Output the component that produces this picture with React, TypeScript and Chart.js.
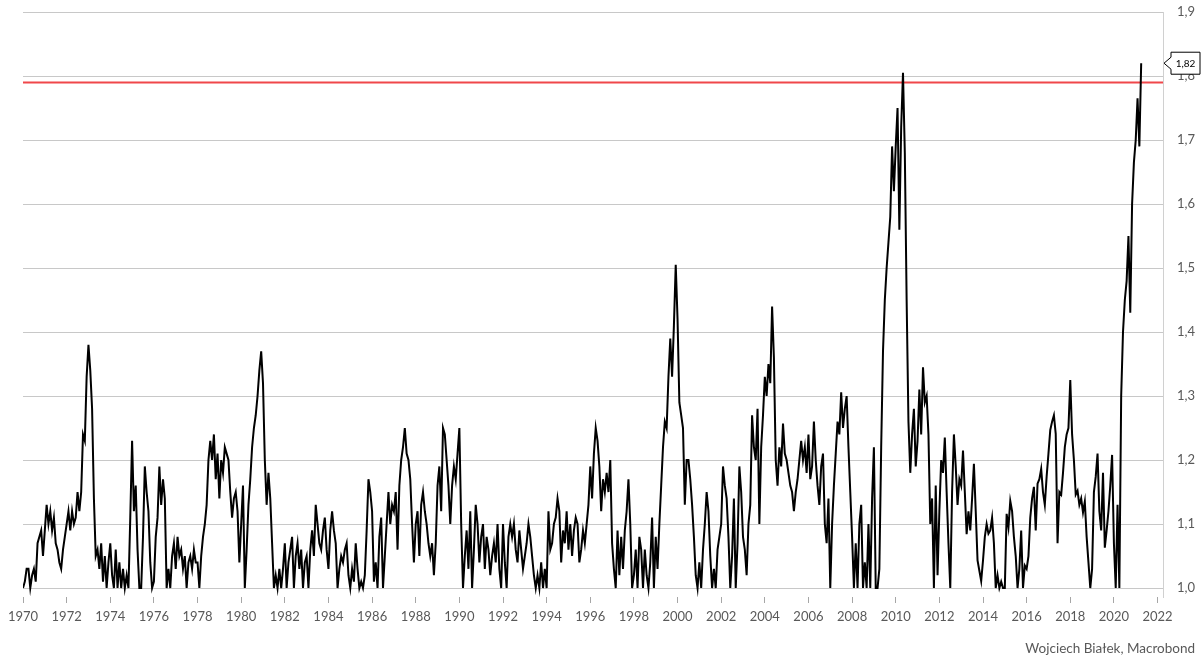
import React, { useEffect, useRef } from "react";
import { Chart, registerables } from "chart.js";

Chart.register(...registerables);

// ---- data (monthly values) ----
const START_YEAR = 1970;

const values1970s = [
  1.0, 1.01, 1.03, 1.03, 1.0, 1.02, 1.03, 1.01, 1.07, 1.08, 1.09, 1.05,
  1.09, 1.13, 1.1, 1.12, 1.09, 1.11, 1.07, 1.06, 1.04, 1.03, 1.06, 1.08,
  1.1, 1.12, 1.09, 1.12, 1.1, 1.11, 1.15, 1.12, 1.15, 1.24, 1.23, 1.33,
  1.38, 1.34, 1.28, 1.14, 1.05, 1.06, 1.03, 1.07, 1.01, 1.05, 1.0, 1.04,
  1.07, 1.02, 1.0, 1.06, 1.0, 1.04, 1.0, 1.03, 1.0, 1.02, 1.0, 1.11,
  1.23, 1.12, 1.16, 1.06, 1.0, 1.0, 1.08, 1.19, 1.15, 1.12, 1.04, 1.0,
  1.01, 1.08, 1.11, 1.19, 1.13, 1.17, 1.14, 1.0, 1.03, 1.0, 1.05, 1.07,
  1.03, 1.08, 1.05, 1.06, 1.03, 1.05, 1.0, 1.04, 1.05, 1.03, 1.06, 1.04,
  1.04, 1.0, 1.05, 1.08, 1.1, 1.13, 1.2, 1.23, 1.2, 1.24, 1.17, 1.21,
  1.14, 1.2, 1.18, 1.22, 1.21, 1.2, 1.15, 1.11, 1.14, 1.15, 1.12, 1.04,
];
const values1980s = [
  1.1, 1.16, 1.0, 1.06, 1.13, 1.17, 1.22, 1.25, 1.27, 1.3, 1.34, 1.37,
  1.32, 1.2, 1.13, 1.18, 1.14, 1.07, 1.0, 1.02, 1.0, 1.03, 1.0, 1.03,
  1.07, 1.0, 1.04, 1.06, 1.08, 1.0, 1.05, 1.07, 1.03, 1.06, 1.0, 1.04,
  1.05, 1.0, 1.06, 1.09, 1.05, 1.13, 1.1, 1.07, 1.06, 1.09, 1.11, 1.06,
  1.03, 1.09, 1.12, 1.09, 1.07, 1.0, 1.03, 1.05, 1.04, 1.06, 1.07, 1.02,
  1.0, 1.03, 1.01, 1.07, 1.03, 1.0, 1.01, 1.0, 1.02, 1.09, 1.17, 1.15,
  1.12, 1.01, 1.04, 1.0, 1.08, 1.11, 1.0, 1.05, 1.1, 1.15, 1.1, 1.13,
  1.12, 1.15, 1.06, 1.16, 1.2, 1.22, 1.25, 1.21, 1.2, 1.17, 1.1, 1.04,
  1.1, 1.12, 1.05, 1.13, 1.15, 1.12, 1.1, 1.07, 1.05, 1.07, 1.02, 1.07,
  1.16, 1.19, 1.12, 1.25, 1.24, 1.2, 1.16, 1.1, 1.16, 1.19, 1.17, 1.21,
];
const values1990s = [
  1.25, 1.1, 1.0, 1.05, 1.09, 1.03, 1.12, 1.0, 1.06, 1.13, 1.1, 1.04,
  1.08, 1.1, 1.03, 1.08, 1.06, 1.02, 1.05, 1.07, 1.04, 1.1, 1.03, 1.0,
  1.1, 1.04, 1.0, 1.08, 1.1, 1.08, 1.1, 1.06, 1.04, 1.09, 1.06, 1.03,
  1.05, 1.07, 1.1, 1.08, 1.05, 1.02, 1.0, 1.02, 1.0, 1.04, 1.0, 1.03,
  1.0, 1.12, 1.06, 1.07, 1.1, 1.11, 1.14, 1.12, 1.04, 1.09, 1.07, 1.12,
  1.06, 1.1, 1.05, 1.09, 1.11, 1.1, 1.04, 1.06, 1.09, 1.07, 1.1, 1.13,
  1.19, 1.14, 1.21, 1.25, 1.23, 1.19, 1.12, 1.17, 1.15, 1.18, 1.15, 1.2,
  1.07, 1.03, 1.0, 1.09, 1.02, 1.08, 1.03, 1.09, 1.12, 1.17, 1.1, 1.0,
  1.02, 1.06, 1.0, 1.08, 1.06, 1.0, 1.06, 1.02, 1.0, 1.04, 1.11, 1.0,
  1.08, 1.03, 1.1, 1.16, 1.22, 1.26, 1.25, 1.33, 1.39, 1.33, 1.41, 1.505,
];
const values2000s = [
  1.42, 1.29, 1.27, 1.25, 1.13, 1.2, 1.2, 1.17, 1.13, 1.08, 1.02, 1.0,
  1.04, 1.0, 1.06, 1.1, 1.15, 1.12, 1.05, 1.0, 1.03, 1.0, 1.06, 1.08,
  1.1, 1.19, 1.16, 1.14, 1.08, 1.0, 1.05, 1.14, 1.0, 1.07, 1.19, 1.15,
  1.08, 1.06, 1.02, 1.1, 1.13, 1.27, 1.22, 1.2, 1.28, 1.1, 1.22, 1.27,
  1.33, 1.3, 1.35, 1.32, 1.44, 1.36, 1.2, 1.16, 1.22, 1.19, 1.257, 1.21,
  1.2, 1.18, 1.16, 1.15, 1.12, 1.15, 1.17, 1.2, 1.23, 1.2, 1.22, 1.18,
  1.24, 1.17, 1.19, 1.26, 1.2, 1.16, 1.13, 1.19, 1.21, 1.1, 1.07, 1.14,
  1.0, 1.1, 1.16, 1.21, 1.26, 1.24, 1.306, 1.25, 1.28, 1.3, 1.22, 1.15,
  1.08, 1.0, 1.07, 1.0, 1.1, 1.13, 1.0, 1.04, 1.0, 1.1, 1.0, 1.14,
  1.22, 1.0, 1.0, 1.03, 1.22, 1.37, 1.45, 1.5, 1.54, 1.58, 1.69, 1.62,
];
const values2010s = [
  1.69, 1.75, 1.56, 1.72, 1.805, 1.68, 1.45, 1.26, 1.18, 1.24, 1.28, 1.19,
  1.23, 1.31, 1.24, 1.345, 1.29, 1.3, 1.24, 1.1, 1.14, 1.0, 1.16, 1.02,
  1.12, 1.2, 1.18, 1.235, 1.15, 1.07, 1.0, 1.15, 1.24, 1.19, 1.13, 1.17,
  1.16, 1.215, 1.15, 1.084, 1.12, 1.09, 1.14, 1.194, 1.12, 1.043, 1.027, 1.011,
  1.043, 1.08, 1.1, 1.085, 1.09, 1.11, 1.07, 1.0, 1.02, 1.0, 1.01, 1.0,
  1.0, 1.116, 1.095, 1.136, 1.12, 1.08, 1.05, 1.0, 1.03, 1.09, 1.0, 1.035,
  1.03, 1.05, 1.11, 1.14, 1.158, 1.09, 1.163, 1.17, 1.186, 1.15, 1.13, 1.174,
  1.21, 1.247, 1.26, 1.27, 1.241, 1.07, 1.15, 1.146, 1.18, 1.22, 1.24, 1.25,
  1.325, 1.24, 1.2, 1.146, 1.152, 1.13, 1.14, 1.118, 1.135, 1.08, 1.04, 1.0,
  1.03, 1.15, 1.174, 1.21, 1.12, 1.09, 1.18, 1.063, 1.09, 1.12, 1.16, 1.208,
];
const values2020s = [
  1.07, 1.0, 1.13, 1.0, 1.3, 1.4, 1.45, 1.48, 1.55, 1.43, 1.6, 1.665,
  1.7, 1.765, 1.69, 1.82,
];

const RED_LEVEL = 1.79;
const X_MIN = 1970;
const X_MAX = 2022.25;
const X_TICKS = [
  1970, 1972, 1974, 1976, 1978, 1980, 1982, 1984, 1986, 1988, 1990, 1992, 1994,
  1996, 1998, 2000, 2002, 2004, 2006, 2008, 2010, 2012, 2014, 2016, 2018, 2020, 2022,
];
const Y_TICKS = [1.0, 1.1, 1.2, 1.3, 1.4, 1.5, 1.6, 1.7, 1.8, 1.9];
const Y_MIN = 0.986;
const Y_MAX = 1.9;
const SOURCE_TEXT = "Wojciech Białek, Macrobond";

const FONT = "Lato, 'Open Sans', sans-serif";
const TEXT_GREY = "#595959";

const fmt = (v: number, d: number) => v.toFixed(d).replace(".", ",");

const calloutPlugin = {
  id: "lastValueCallout",
  afterDraw(chart: any) {
    const meta = chart.getDatasetMeta(0);
    const pts = meta.data;
    if (!pts || !pts.length) return;
    const ds = chart.data.datasets[0].data;
    const lastVal = ds[ds.length - 1].y as number;
    const y = chart.scales.y.getPixelForValue(lastVal);
    const tipX = chart.chartArea.right + 1;
    const boxL = tipX + 7;
    const boxR = boxL + 29;
    const h = 22;
    const ctx = chart.ctx;
    ctx.save();
    ctx.beginPath();
    ctx.moveTo(tipX, y);
    ctx.lineTo(boxL, y - 6);
    ctx.lineTo(boxL, y - h / 2);
    ctx.lineTo(boxR, y - h / 2);
    ctx.lineTo(boxR, y + h / 2);
    ctx.lineTo(boxL, y + h / 2);
    ctx.lineTo(boxL, y + 6);
    ctx.closePath();
    ctx.fillStyle = "#ffffff";
    ctx.fill();
    ctx.strokeStyle = "#000000";
    ctx.lineWidth = 1;
    ctx.stroke();
    ctx.fillStyle = "#000000";
    ctx.font = `10px ${FONT}`;
    ctx.textAlign = "center";
    ctx.textBaseline = "middle";
    ctx.fillText(fmt(lastVal, 2), (boxL + boxR) / 2, y + 0.5);
    ctx.restore();
  },
};

export default function App() {
  const canvasRef = useRef<HTMLCanvasElement | null>(null);

  useEffect(() => {
    const canvas = canvasRef.current;
    if (!canvas) return;
    const all = [
      ...values1970s,
      ...values1980s,
      ...values1990s,
      ...values2000s,
      ...values2010s,
      ...values2020s,
    ];
    const series = all.map((v, i) => ({ x: START_YEAR + i / 12, y: v }));
    const redLine = [
      { x: X_MIN, y: RED_LEVEL },
      { x: X_MAX, y: RED_LEVEL },
    ];

    const chart = new Chart(canvas, {
      type: "line",
      data: {
        datasets: [
          {
            data: series,
            borderColor: "#000000",
            borderWidth: 2,
            pointRadius: 0,
            tension: 0,
            order: 0,
          },
          {
            data: redLine,
            borderColor: "#f0474a",
            borderWidth: 2,
            pointRadius: 0,
            order: 1,
          },
        ],
      },
      options: {
        animation: false,
        responsive: false,
        devicePixelRatio: 1,
        layout: { padding: { left: 23, right: 0, top: 12, bottom: 33 } },
        plugins: {
          legend: { display: false },
          tooltip: { enabled: false },
        },
        scales: {
          x: {
            type: "linear",
            min: X_MIN,
            max: X_MAX,
            afterBuildTicks: (s: any) => {
              s.ticks = X_TICKS.map((v) => ({ value: v }));
            },
            afterFit: (s: any) => {
              s.height = 29;
              s.paddingLeft = 0;
              s.paddingRight = 0;
            },
            grid: {
              drawOnChartArea: false,
              drawTicks: true,
              tickLength: 6,
              color: "#a6a6a6",
            },
            border: { display: false },
            ticks: {
              color: TEXT_GREY,
              font: { family: FONT, size: 13 },
              padding: 6,
              maxRotation: 0,
              autoSkip: false,
              callback: (v: any) => String(v),
            },
          },
          y: {
            type: "linear",
            position: "right",
            min: Y_MIN,
            max: Y_MAX,
            afterBuildTicks: (s: any) => {
              s.ticks = Y_TICKS.map((v) => ({ value: v }));
            },
            afterFit: (s: any) => {
              s.width = 40;
              s.paddingTop = 0;
              s.paddingBottom = 0;
            },
            grid: { color: "#c8c8c8", drawTicks: false, lineWidth: 1 },
            border: { display: true, color: "#d0d0d0" },
            ticks: {
              color: TEXT_GREY,
              font: { family: FONT, size: 13 },
              padding: 14,
              callback: (v: any) => fmt(Number(v), 1),
            },
          },
        },
      },
      plugins: [calloutPlugin],
    });
    return () => chart.destroy();
  }, []);

  return (
    <div
      style={{
        position: "fixed",
        left: 0,
        top: 0,
        width: 1203,
        height: 659,
        background: "#ffffff",
      }}
    >
      <canvas ref={canvasRef} width={1203} height={659} />
      <div
        style={{
          position: "absolute",
          right: 8,
          top: 640,
          fontFamily: FONT,
          fontSize: 13.5,
          color: TEXT_GREY,
          whiteSpace: "nowrap",
        }}
      >
        {SOURCE_TEXT}
      </div>
    </div>
  );
}
